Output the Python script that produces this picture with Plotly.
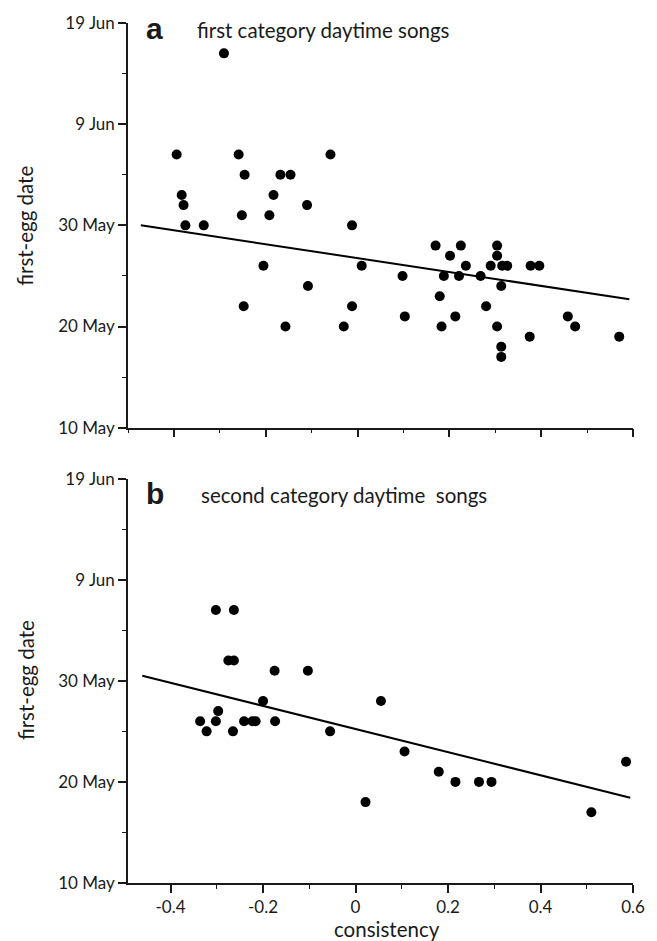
import plotly.graph_objects as go

# ---- data (consistency vs first-egg date, in days after 10 May) ----
a_consistency = [-0.291, -0.394, -0.259, -0.246, -0.168, -0.146, -0.383, -0.379, -0.183, -0.110,
                 -0.252, -0.192, -0.375, -0.335, -0.205, -0.108, -0.248, -0.157,
                 -0.059, -0.012, 0.009, 0.098, 0.188, 0.221, 0.170, 0.225, 0.2015, 0.236,
                 -0.012, -0.030, 0.103, 0.179, 0.213, 0.183,
                 0.304, 0.304, 0.290, 0.315, 0.326, 0.377, 0.396, 0.268, 0.313, 0.280,
                 0.458, 0.474, 0.304, 0.375, 0.570, 0.313, 0.313]
a_days = [37, 27, 27, 25, 25, 25, 23, 22, 23, 22,
          21, 21, 20, 20, 16, 14, 12, 10,
          27, 20, 16, 15, 15, 15, 18, 18, 17, 16,
          12, 10, 11, 13, 11, 10,
          18, 17, 16, 16, 16, 16, 16, 15, 14, 12,
          11, 10, 10, 9, 9, 8, 7]
a_fit_x = [-0.472, 0.592]
a_fit_days = [20.0, 12.7]

b_consistency = [-0.302, -0.263, -0.275, -0.263, -0.175, -0.103, -0.200, -0.297, -0.336, -0.302,
                 -0.241, -0.223, -0.216, -0.174, -0.322, -0.265, -0.055,
                 0.055, 0.106, 0.180, 0.216, 0.267, 0.294, 0.0216, 0.585, 0.510]
b_days = [27, 27, 22, 22, 21, 21, 18, 17, 16, 16,
          16, 16, 16, 16, 15, 15, 15,
          18, 13, 11, 10, 10, 10, 8, 12, 7]
b_fit_x = [-0.461, 0.594]
b_fit_days = [20.5, 8.44]

y_tickvals = [0, 10, 20, 30, 40]
y_ticktext = ["10 May", "20 May", "30 May", "9 Jun", "19 Jun"]
x_tickvals = [-0.4, -0.2, 0, 0.2, 0.4, 0.6]
x_ticktext = ["-0.4", "-0.2", "0", "0.2", "0.4", "0.6"]

panel_a_label = "a"
panel_a_title = "first category daytime songs"
panel_b_label = "b"
panel_b_title = "second category daytime\u00a0 songs"
y_title = "first-egg date"
x_title = "consistency"

# ---- figure ----
INK = "#1a1a1a"
FONT = "Lato"
W, H = 657, 941
L, R, T, B = 128, 22, 16, 58
PH = H - T - B
PW = W - L - R


def py(p):
    return (H - B - p) / PH


def px(p):
    return (p - L) / PW


fig = go.Figure()
fig.add_trace(go.Scatter(x=a_consistency, y=a_days, mode="markers",
                         marker=dict(color="black", size=10), xaxis="x", yaxis="y", showlegend=False))
fig.add_trace(go.Scatter(x=a_fit_x, y=a_fit_days, mode="lines",
                         line=dict(color="black", width=2), xaxis="x", yaxis="y", showlegend=False))
fig.add_trace(go.Scatter(x=b_consistency, y=b_days, mode="markers",
                         marker=dict(color="black", size=10), xaxis="x2", yaxis="y2", showlegend=False))
fig.add_trace(go.Scatter(x=b_fit_x, y=b_fit_days, mode="lines",
                         line=dict(color="black", width=2), xaxis="x2", yaxis="y2", showlegend=False))

common_x = dict(showgrid=False, zeroline=False, showline=True, linecolor=INK, linewidth=1.5,
                ticks="outside", ticklen=8, tickwidth=1.5, tickcolor=INK,
                tickvals=x_tickvals, ticktext=x_ticktext,
                minor=dict(dtick=0.1, tick0=0, ticks="outside", ticklen=4, tickwidth=1.2, tickcolor=INK),
                tickfont=dict(family=FONT, size=17, color=INK))
common_y = dict(showgrid=False, zeroline=False, showline=True, linecolor=INK, linewidth=1.5,
                ticks="outside", ticklen=8, tickwidth=1.5, tickcolor=INK,
                tickvals=y_tickvals, ticktext=y_ticktext, range=[0, 40],
                minor=dict(dtick=5, tick0=0, ticks="outside", ticklen=4, tickwidth=1.2, tickcolor=INK),
                tickfont=dict(family=FONT, size=17, color=INK))

top_dom = [py(424), 1.0]
bot_dom = [0.0, py(475.3)]

fig.update_layout(
    width=W, height=H,
    margin=dict(l=L, r=R, t=T, b=B),
    paper_bgcolor="white", plot_bgcolor="white",
    xaxis=dict(common_x, domain=[0, 1], anchor="y", range=[-0.5, 0.6], showticklabels=False),
    yaxis=dict(common_y, domain=top_dom, anchor="x"),
    xaxis2=dict(common_x, domain=[0, 1], anchor="y2", range=[-0.492, 0.6]),
    yaxis2=dict(common_y, domain=bot_dom, anchor="x2"),
)

ann = []
ann.append(dict(text=f"<b>{panel_a_label}</b>", x=px(144), y=py(22), xanchor="left", yanchor="middle",
                font=dict(family="Liberation Sans", size=30, color=INK)))
ann.append(dict(text=panel_a_title, x=px(195), y=py(23), xanchor="left", yanchor="middle",
                font=dict(family=FONT, size=20.5, color=INK)))
ann.append(dict(text=f"<b>{panel_b_label}</b>", x=px(144), y=py(490), xanchor="left", yanchor="middle",
                font=dict(family="Liberation Sans", size=30, color=INK)))
ann.append(dict(text=panel_b_title, x=px(199), y=py(492), xanchor="left", yanchor="middle",
                font=dict(family=FONT, size=20.5, color=INK)))
ann.append(dict(text=y_title, x=px(25), y=py(220), xanchor="center", yanchor="middle", textangle=-90,
                font=dict(family=FONT, size=20.5, color=INK)))
ann.append(dict(text=y_title, x=px(25), y=py(678), xanchor="center", yanchor="middle", textangle=-90,
                font=dict(family=FONT, size=20.5, color=INK)))
ann.append(dict(text=x_title, x=px(388), y=py(929), xanchor="center", yanchor="middle",
                font=dict(family=FONT, size=20.5, color=INK)))
for a in ann:
    a.update(xref="paper", yref="paper", showarrow=False)
fig.update_layout(annotations=ann)

fig.write_html("out.html", config={"displayModeBar": False},
               post_script="document.body.style.margin='0';document.body.style.overflow='hidden';")
